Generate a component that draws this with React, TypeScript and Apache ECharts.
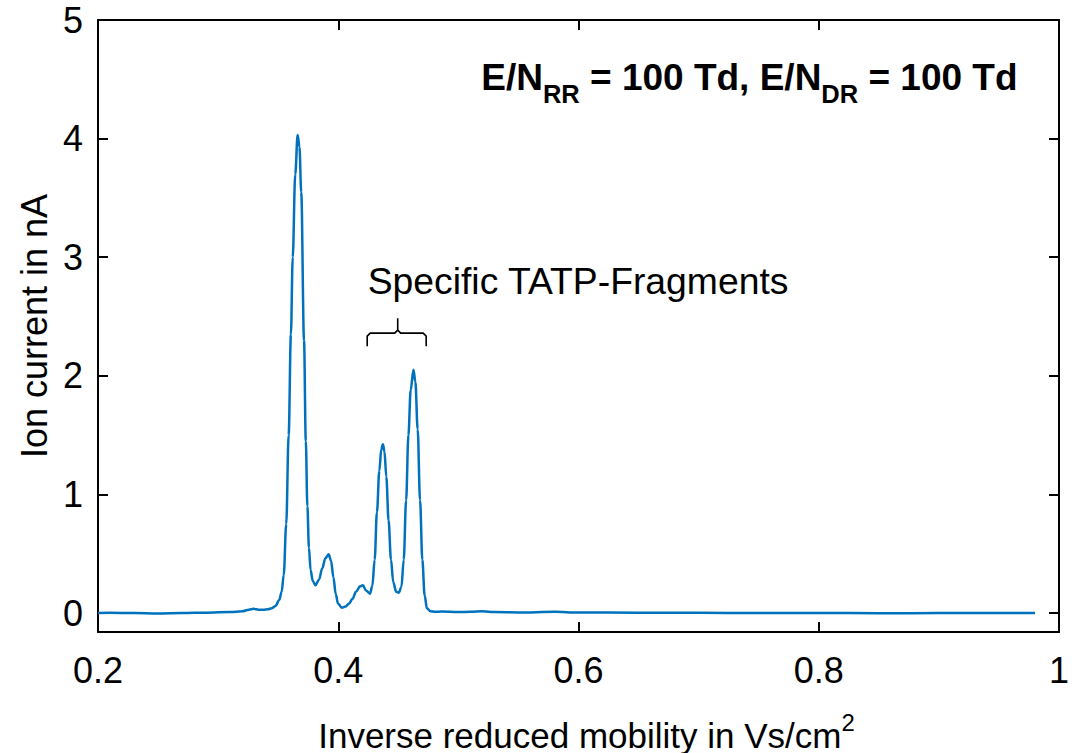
import React, { useEffect, useRef } from "react";
import * as echarts from "echarts";

// Inverse reduced mobility (Vs/cm^2) and ion current (nA)
const mobility = [
  0.2, 0.21, 0.23, 0.25, 0.27, 0.29, 0.31, 0.32, 0.3256, 0.3296, 0.3336, 0.3376, 0.3416, 0.3446,
  0.3477, 0.3509, 0.3529, 0.3546, 0.3567, 0.3587, 0.3606, 0.3621, 0.3642, 0.3662, 0.3677, 0.3692,
  0.3715, 0.373, 0.3743, 0.3756, 0.377, 0.3788, 0.381, 0.3839, 0.3868, 0.3892, 0.392,
  0.394, 0.396, 0.3979, 0.3998, 0.403, 0.4061, 0.409, 0.4119, 0.4148, 0.4182, 0.4205,
  0.4231, 0.4264, 0.4284, 0.4303, 0.4322, 0.4342, 0.4358, 0.4372, 0.4385, 0.44, 0.4419, 0.4439,
  0.4458, 0.4482, 0.4503, 0.4526, 0.4545, 0.4565, 0.4584, 0.4603, 0.4626, 0.4642, 0.4661, 0.4681,
  0.47, 0.4719, 0.4738, 0.4768, 0.4806, 0.486, 0.5, 0.51, 0.52, 0.53, 0.55, 0.58, 0.6, 0.65,
  0.7, 0.75, 0.8, 0.85, 0.9, 0.95, 0.98,
];
const ionCurrent = [
  0.0, 0.002, 0.0, -0.003, 0.0, 0.003, 0.008, 0.015, 0.028, 0.035, 0.028, 0.027, 0.032, 0.04,
  0.06, 0.11, 0.18, 0.32, 0.75, 1.5, 2.35, 3.0, 3.7, 4.03, 3.93, 3.55,
  2.3, 1.45, 0.9, 0.55, 0.36, 0.27, 0.234, 0.28, 0.38, 0.46, 0.495,
  0.44, 0.3, 0.16, 0.08, 0.045, 0.055, 0.08, 0.12, 0.18, 0.225, 0.234,
  0.19, 0.163, 0.23, 0.45, 0.85, 1.2, 1.38, 1.422, 1.36, 1.15, 0.78, 0.45,
  0.26, 0.18, 0.171, 0.22, 0.45, 0.95, 1.5, 1.88, 2.052, 1.95, 1.55, 0.95,
  0.45, 0.15, 0.04, 0.015, 0.01, 0.012, 0.008, 0.01, 0.015, 0.008, 0.005, 0.01, 0.004, 0.003,
  0.002, 0.0, 0.001, -0.002, 0.0, 0.0, 0.0,
];

const yTicks = [0, 1, 2, 3, 4, 5];

// Annotations (data coordinates)
const fragmentLabel = "Specific TATP-Fragments";
const fragmentLabelPos = [0.4245, 2.8];
const braceX = [0.4241, 0.4495, 0.4732];
const braceY = [2.25, 2.36, 2.486];
const conditionPos = [0.9655, 4.516];

const FONT = "'Liberation Sans', Arial, Helvetica, sans-serif";
const LINE_COLOR = "#0072BD";

export default function App() {
  const ref = useRef<HTMLDivElement>(null);

  useEffect(() => {
    document.body.style.margin = "0";
    const chart = echarts.init(ref.current!, undefined, { renderer: "svg" });
    const axisLineStyle = { color: "#000", width: 2 };
    const tick = { show: true, inside: true, length: 10, lineStyle: { color: "#000", width: 2 } };

    const option: any = {
      animation: false,
      backgroundColor: "#fff",
      grid: {
        left: 98,
        top: 20,
        right: 17,
        bottom: 121,
        containLabel: false,
        outerBoundsMode: "none",
      },
      xAxis: [
        {
          type: "value",
          min: 0.2,
          max: 1,
          interval: 0.2,
          position: "bottom",
          axisLine: { show: true, onZero: false, lineStyle: axisLineStyle },
          axisTick: tick,
          splitLine: { show: false },
          axisLabel: {
            show: true,
            color: "#000",
            fontSize: 36,
            fontFamily: FONT,
            margin: 20,
            formatter: (v: number) => String(Math.round(v * 10) / 10),
          },
          name: "{a|Inverse reduced mobility in Vs/cm}{b|2}",
          nameLocation: "middle",
          nameGap: 78,
          nameTextStyle: {
            color: "#000",
            fontFamily: FONT,
            padding: [0, 0, 0, 16],
            rich: {
              a: { fontSize: 35, fontFamily: FONT, color: "#000" },
              b: { fontSize: 24, fontFamily: FONT, color: "#000", padding: [0, 0, 26, 0] },
            },
          },
        },
        {
          type: "value",
          min: 0.2,
          max: 1,
          interval: 0.2,
          position: "top",
          axisLine: { show: true, onZero: false, lineStyle: axisLineStyle },
          axisTick: tick,
          splitLine: { show: false },
          axisLabel: { show: false },
        },
      ],
      yAxis: [
        {
          type: "value",
          min: -0.16,
          max: 5,
          position: "left",
          axisLine: { show: true, onZero: false, lineStyle: axisLineStyle },
          axisTick: { ...tick, customValues: yTicks },
          splitLine: { show: false },
          axisLabel: {
            show: true,
            customValues: yTicks,
            color: "#000",
            fontSize: 36,
            fontFamily: FONT,
            margin: 15,
          },
          name: "Ion current in nA",
          nameLocation: "middle",
          nameGap: 40,
          nameTextStyle: { color: "#000", fontSize: 36, fontFamily: FONT },
        },
        {
          type: "value",
          min: -0.16,
          max: 5,
          position: "right",
          axisLine: { show: true, onZero: false, lineStyle: axisLineStyle },
          axisTick: { ...tick, customValues: yTicks },
          splitLine: { show: false },
          axisLabel: { show: false },
        },
      ],
      series: [
        {
          type: "line",
          xAxisIndex: 0,
          yAxisIndex: 0,
          data: mobility.map((x, i) => [x, ionCurrent[i]]),
          showSymbol: false,
          smooth: 0.35,
          smoothMonotone: "x",
          lineStyle: { color: LINE_COLOR, width: 2.5 },
          itemStyle: { color: LINE_COLOR },
        },
      ],
    };
    chart.setOption(option);

    const px = (p: number[]) => chart.convertToPixel({ gridIndex: 0 }, p) as number[];
    const [bl, bm, br] = braceX.map((x) => px([x, braceY[1]])[0]);
    const yEnd = px([braceX[0], braceY[0]])[1];
    const yH = px([braceX[0], braceY[1]])[1];
    const yTip = px([braceX[0], braceY[2]])[1];
    const r = 3;
    const lbl = px(fragmentLabelPos);
    const cond = px(conditionPos);
    const braceStyle = { stroke: "#000", lineWidth: 1.6, fill: null };

    chart.setOption({
      graphic: [
        {
          type: "polyline",
          shape: {
            points: [
              [bl, yEnd],
              [bl, yH + r],
              [bl + r, yH],
              [bm - r, yH],
              [bm, yH - r],
              [bm, yTip],
            ],
          },
          style: braceStyle,
          silent: true,
        },
        {
          type: "polyline",
          shape: {
            points: [
              [bm, yH - r],
              [bm + r, yH],
              [br - r, yH],
              [br, yH + r],
              [br, yEnd],
            ],
          },
          style: braceStyle,
          silent: true,
        },
        {
          type: "text",
          x: lbl[0],
          y: lbl[1],
          style: {
            text: fragmentLabel,
            fontSize: 37.3,
            fontFamily: FONT,
            fill: "#000",
            align: "left",
            verticalAlign: "middle",
          },
          silent: true,
        },
        {
          type: "text",
          x: cond[0],
          y: cond[1],
          style: {
            text: "{m|E/N}{s|RR}{m| = 100 Td, E/N}{s|DR}{m| = 100 Td}",
            align: "right",
            verticalAlign: "middle",
            fill: "#000",
            rich: {
              m: { fontSize: 37, fontWeight: "bold", fontFamily: FONT, fill: "#000", lineHeight: 40 },
              s: {
                fontSize: 25.5,
                fontWeight: "bold",
                fontFamily: FONT,
                fill: "#000",
                lineHeight: 28,
                padding: [34, 0, 0, 0],
              },
            },
          },
          silent: true,
        },
      ],
    });

    return () => chart.dispose();
  }, []);

  return <div ref={ref} style={{ width: 1076, height: 753 }} />;
}
